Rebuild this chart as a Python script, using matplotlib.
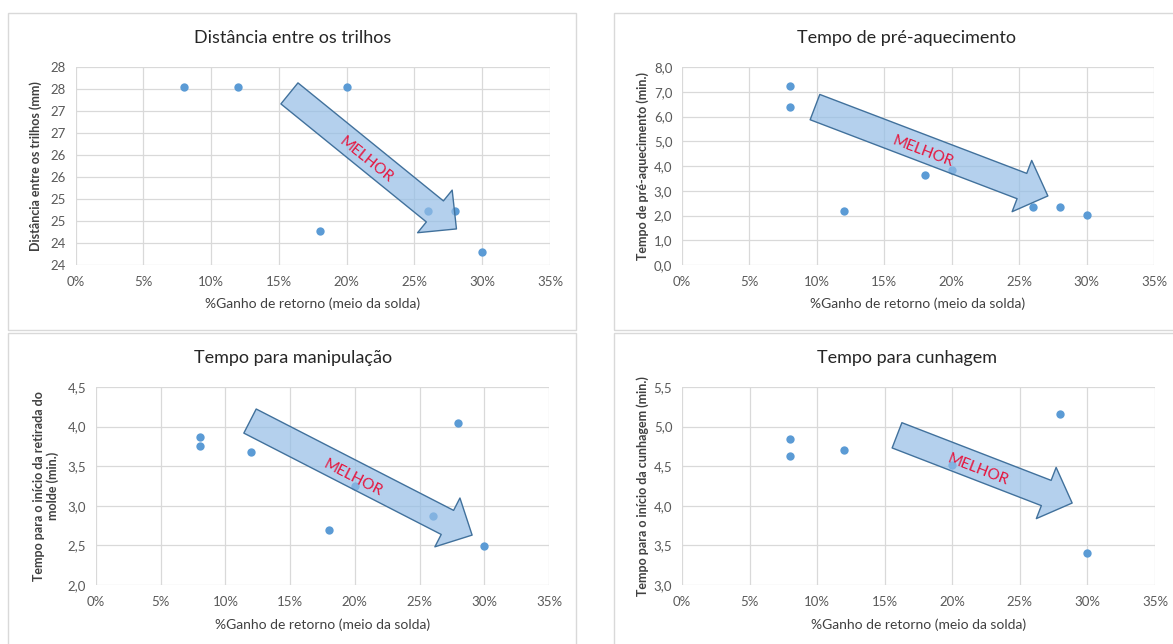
import matplotlib
matplotlib.use('Agg')
import matplotlib.pyplot as plt
from matplotlib.patches import Rectangle

plt.rcParams['font.family'] = ['Lato', 'DejaVu Sans']

W, H = 1173, 644

# ---------------- data ----------------
x_ticks = [0, 5, 10, 15, 20, 25, 30, 35]
x_tick_labels = ['0%', '5%', '10%', '15%', '20%', '25%', '30%', '35%']
x_label = '%Ganho de retorno (meio da solda)'

# Chart 1
c1_title = 'Distância entre os trilhos'
c1_ylabel = 'Distância entre os trilhos (mm)'
c1_x = [8, 12, 18, 20, 26, 28, 30]
c1_y = [27.55, 27.55, 24.28, 27.55, 24.73, 24.73, 23.8]
c1_yticks = [23.5, 24.0, 24.5, 25.0, 25.5, 26.0, 26.5, 27.0, 27.5, 28.0]
c1_yticklabels = ['24', '24', '25', '25', '26', '26', '27', '27', '28', '28']

# Chart 2
c2_title = 'Tempo de pré-aquecimento'
c2_ylabel = 'Tempo de pré-aquecimento (min.)'
c2_x = [8, 8, 12, 18, 20, 26, 28, 30]
c2_y = [7.22, 6.39, 2.17, 3.64, 3.82, 2.35, 2.35, 2.02]
c2_yticks = [0, 1, 2, 3, 4, 5, 6, 7, 8]
c2_yticklabels = ['0,0', '1,0', '2,0', '3,0', '4,0', '5,0', '6,0', '7,0', '8,0']

# Chart 3
c3_title = 'Tempo para manipulação'
c3_ylabel = 'Tempo para o início da retirada do\nmolde (min.)'
c3_x = [8, 8, 12, 18, 20, 26, 28, 30]
c3_y = [3.87, 3.755, 3.68, 2.69, 3.25, 2.875, 4.05, 2.49]
c3_yticks = [2.0, 2.5, 3.0, 3.5, 4.0, 4.5]
c3_yticklabels = ['2,0', '2,5', '3,0', '3,5', '4,0', '4,5']

# Chart 4
c4_title = 'Tempo para cunhagem'
c4_ylabel = 'Tempo para o início da cunhagem (min.)'
c4_x = [8, 8, 12, 20, 28, 30]
c4_y = [4.84, 4.63, 4.71, 4.51, 5.16, 3.40]
c4_yticks = [3.0, 3.5, 4.0, 4.5, 5.0, 5.5]
c4_yticklabels = ['3,0', '3,5', '4,0', '4,5', '5,0', '5,5']

arrow_text = 'MELHOR'
# arrow tail / tip (data coords) and label position / rotation
c1_arrow = ((15.78, 27.40), (28.1, 24.32), (21.4, 25.89), -38.8)
c2_arrow = ((9.86, 6.38), (27.13, 2.79), (17.9, 4.57), -20.9)
c3_arrow = ((11.9, 4.07), (29.06, 2.63), (19.86, 3.35), -27.2)
c4_arrow = ((15.91, 4.89), (28.87, 4.035), (21.9, 4.45), -21.2)

# ---------------- figure ----------------
fig = plt.figure(figsize=(W / 100, H / 100), dpi=100)
fig.patch.set_facecolor('white')


def fx(x):
    return x / W


def fy(y):
    return 1 - y / H


# panel borders
for (x0, y0, x1, y1) in [(8, 13, 576, 330), (614, 13, 1200, 330),
                         (8, 333, 576, 660), (614, 333, 1200, 660)]:
    fig.patches.append(Rectangle((fx(x0), fy(y1)), fx(x1) - fx(x0), fy(y0) - fy(y1),
                                 transform=fig.transFigure, fill=False,
                                 edgecolor='#D9D9D9', linewidth=1.0))

panels = [
    dict(box=(75.5, 67, 550, 265), title=c1_title, tx=293, ty=38, ylabel=c1_ylabel, ylx=36,
         x=c1_x, y=c1_y, yticks=c1_yticks, ytl=c1_yticklabels, arrow=c1_arrow, xly=304),
    dict(box=(682, 67, 1154, 265), title=c2_title, tx=907, ty=38, ylabel=c2_ylabel, ylx=643,
         x=c2_x, y=c2_y, yticks=c2_yticks, ytl=c2_yticklabels, arrow=c2_arrow, xly=304),
    dict(box=(96, 387, 549, 585), title=c3_title, tx=293, ty=358, ylabel=c3_ylabel, ylx=46,
         x=c3_x, y=c3_y, yticks=c3_yticks, ytl=c3_yticklabels, arrow=c3_arrow, xly=625),
    dict(box=(682, 387, 1155, 585), title=c4_title, tx=907, ty=358, ylabel=c4_ylabel, ylx=643,
         x=c4_x, y=c4_y, yticks=c4_yticks, ytl=c4_yticklabels, arrow=c4_arrow, xly=625),
]

for p in panels:
    x0, y0, x1, y1 = p['box']
    ax = fig.add_axes([fx(x0), fy(y1), fx(x1) - fx(x0), fy(y0) - fy(y1)])
    ax.set_xlim(0, 35)
    ax.set_ylim(p['yticks'][0], p['yticks'][-1])
    ax.set_xticks(x_ticks)
    ax.set_xticklabels(x_tick_labels)
    ax.set_yticks(p['yticks'])
    ax.set_yticklabels(p['ytl'])
    ax.tick_params(length=0, labelsize=9.5, colors='#595959', pad=7)
    ax.tick_params(axis='x', pad=8)
    for s in ax.spines.values():
        s.set_visible(False)
    ax.grid(True, color='#D9D9D9', linewidth=0.9)
    ax.set_axisbelow(True)
    ax.scatter(p['x'], p['y'], s=36, color='#5B9BD5', zorder=3, linewidths=0)

    tail, tip, tpos, rot = p['arrow']
    ax.annotate('', xy=tip, xytext=tail, xycoords='data', annotation_clip=False,
                arrowprops=dict(arrowstyle='simple,head_length=20,head_width=39.5,tail_width=19.5',
                                mutation_scale=1, shrinkA=0, shrinkB=0,
                                fc=(0.58, 0.74, 0.90, 0.70), ec='#41719C', lw=1.0),
                zorder=4)
    ax.text(tpos[0], tpos[1], arrow_text, rotation=rot, rotation_mode='anchor',
            ha='center', va='center', color='#E5173F', fontsize=11, zorder=5)

    fig.text(fx(p['tx']), fy(p['ty']), p['title'], ha='center', va='center',
             fontsize=13, color='#262626')
    fig.text(fx((x0 + x1) / 2), fy(p['xly']), x_label, ha='center', va='center',
             fontsize=10, color='#404040')
    fig.text(fx(p['ylx']), fy((y0 + y1) / 2), p['ylabel'], ha='center', va='center',
             rotation=90, fontsize=9, fontweight='bold', color='#404040',
             multialignment='center', linespacing=1.2)

fig.savefig('out.png', dpi=100)
